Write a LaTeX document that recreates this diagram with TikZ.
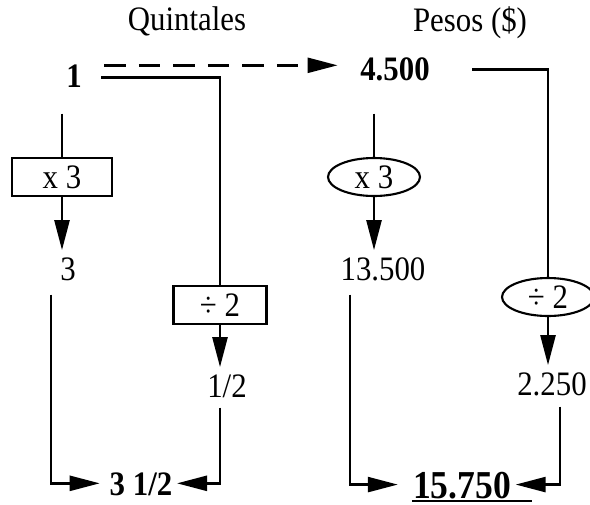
\documentclass[tikz,border=0pt]{standalone}
\usepackage{fontspec}
\setmainfont{Liberation Serif}[FakeStretch=0.9]
\usetikzlibrary{arrows.meta,shapes.geometric,calc}
\tikzset{
  valor/.style={anchor=base,inner xsep=2pt,inner ysep=3pt,text height=13.3pt,text depth=0pt},
  negrita/.style={valor,font=\fontsize{19.5}{23}\selectfont\bfseries},
  caja/.style={draw,rectangle,line width=1.2pt,minimum width=2cm,minimum height=0.76cm,inner sep=0pt},
  ovalo/.style={draw,ellipse,line width=1.2pt,minimum width=1.84cm,minimum height=0.76cm,inner sep=0pt},
  flecha/.style={-{Triangle[length=0.6cm,width=0.3cm]}},
}
\begin{document}
\begin{tikzpicture}[x=0.02cm,y=-0.02cm,line width=1.4pt,font=\fontsize{19.5}{23}\selectfont]
\useasboundingbox (0,0) rectangle (590,504);
% titulos
\node[valor] (quin) at (187,30) {Quintales};
\node[valor] (pesos) at (470,31) {Pesos (\$)};
% quintales
\node[negrita] (uno) at (74,87) {1};
\node[caja] (xtres) at (62,177) {x 3};
\node[valor] (tres) at (68,280) {3};
\node[caja,minimum width=1.86cm] (div) at (220,305) {÷ 2};
\node[valor] (medio) at (227,397) {1/2};
\node[negrita] (total) at (141,495) {3 1/2};
% pesos
\node[negrita] (cuatro) at (395,80) {4.500};
\node[ovalo] (oxtres) at (374,177) {x 3};
\node[valor] (trece) at (383,280) {13.500};
\node[ovalo] (odiv) at (548,297) {÷ 2};
\node[valor] (dos) at (552,395) {2.250};
\node[negrita,font=\fontsize{22.5}{26}\selectfont\bfseries,text height=15.3pt,inner ysep=1pt] (fin) at (462,498) {15.750};
\draw[line width=1.2pt] ($(fin.base west)+(3.5,3)$) -- ($(fin.base east)+(16,3)$);
% conexiones
\draw[dash pattern=on 0.43cm off 0.26cm,flecha] ($(uno.east)+(18,-10)$) -- ($(cuatro.west)+(-18,-3)$);
\draw ($(uno.east)+(15,2)$) -| (div.north);
\draw ($(xtres.north |- uno.south)+(0,20)$) -- (xtres.north);
\draw[flecha] (xtres.south) -- (xtres.south |- tres.north);
\draw[flecha] (div.south) -- (div.south |- medio.north);
\draw[flecha,shorten >=3pt] ($(tres.south)+(-17,8)$) |- (total.west);
\draw[flecha] ($(medio.south -| div.south)+(0,4)$) |- (total.east);
\draw ($(oxtres.north |- cuatro.south)+(0,27)$) -- (oxtres.north);
\draw[flecha] (oxtres.south) -- (oxtres.south |- trece.north);
\draw ($(cuatro.east)+(38,1)$) -| (odiv.north);
\draw[flecha] (odiv.south) -- (odiv.south |- dos.north);
\draw[flecha,shorten >=6pt] ($(trece.south)+(-33,8)$) |- (fin.west);
\draw[flecha] ($(dos.south)+(8,5)$) |- (fin.east);
\end{tikzpicture}
\end{document}
